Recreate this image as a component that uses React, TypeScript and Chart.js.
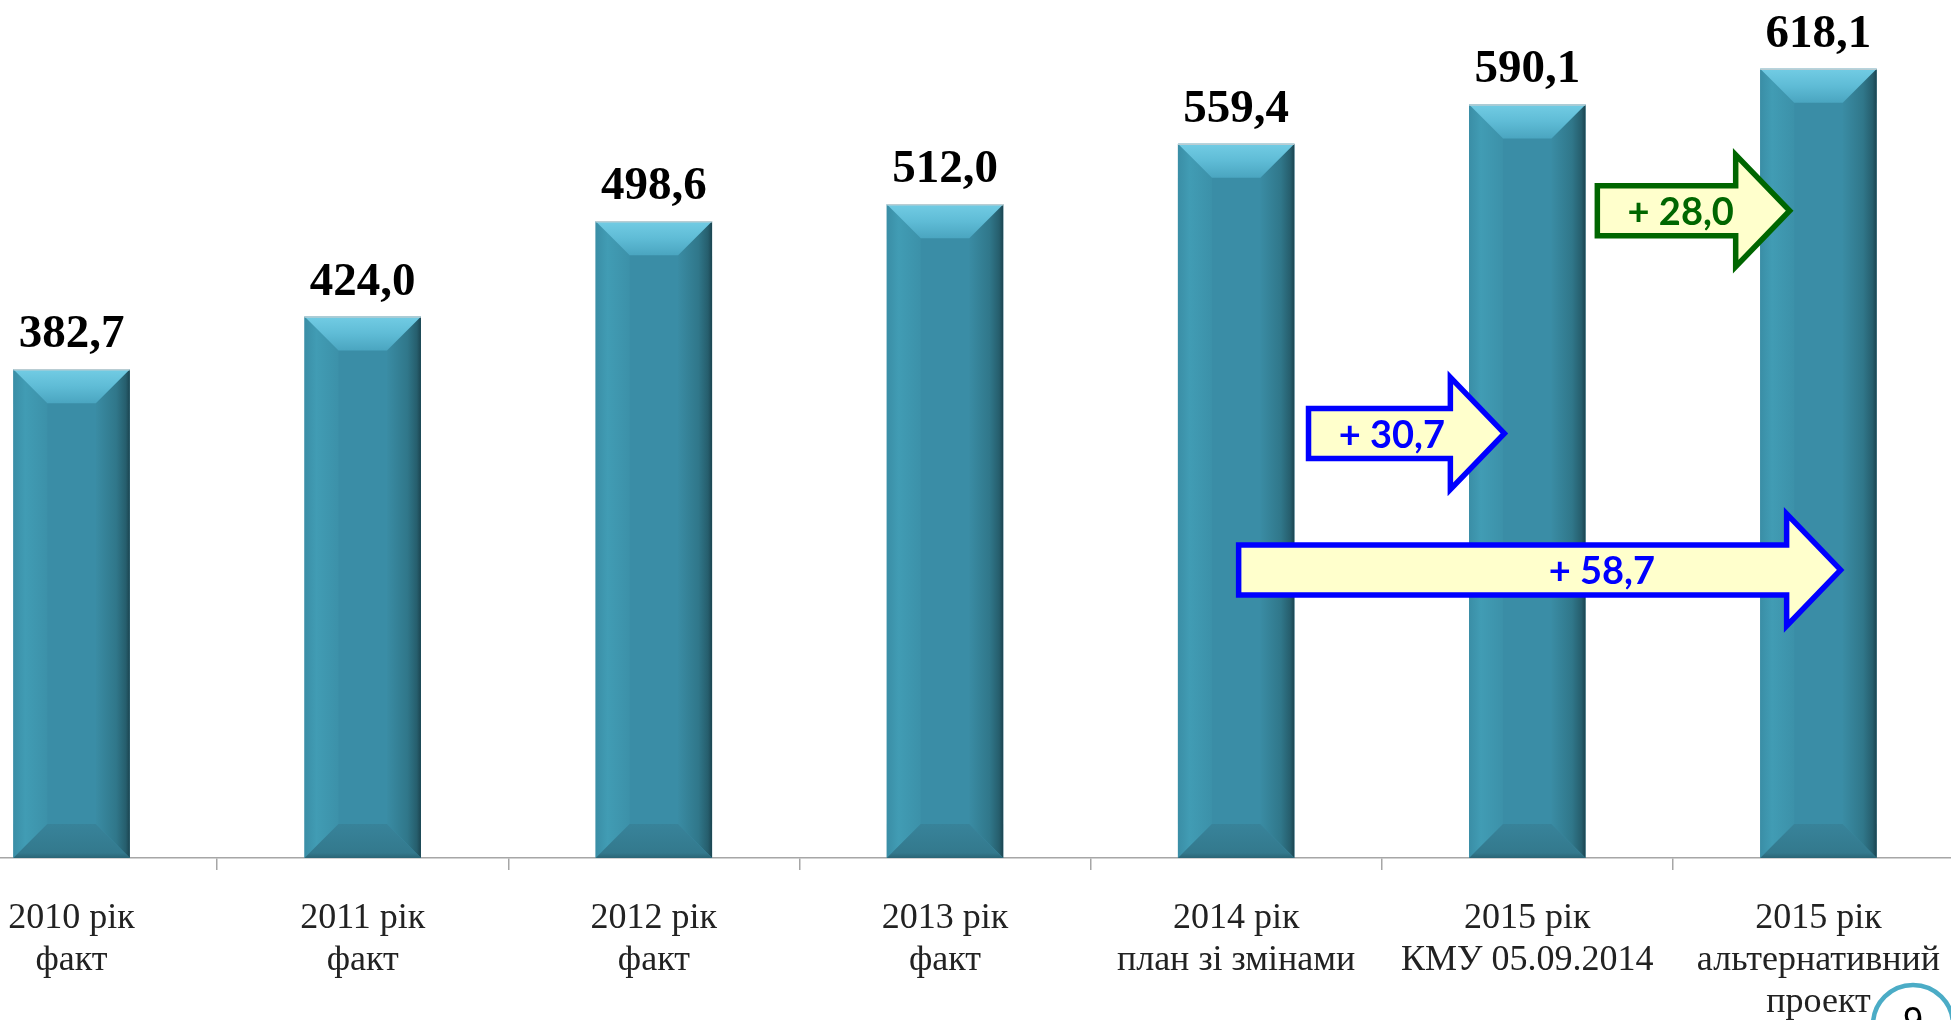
import React, { useEffect, useRef } from "react";
import { Chart, registerables } from "chart.js";

Chart.register(...registerables);

// ---- data ----
const categories: string[][] = [
  ["2010 рік", "факт"],
  ["2011 рік", "факт"],
  ["2012 рік", "факт"],
  ["2013 рік", "факт"],
  ["2014 рік", "план зі змінами"],
  ["2015 рік", "КМУ 05.09.2014"],
  ["2015 рік", "альтернативний", "проект"],
];
const values: number[] = [382.7, 424.0, 498.6, 512.0, 559.4, 590.1, 618.1];

// change arrows (positions in category index / value units)
const arrowLabels: string[] = ["+ 30,7", "+ 58,7", "+ 28,0"];
const arrowStart: number[] = [4.24, 4.0, 5.232];
const arrowTip: number[] = [4.935, 6.09, 5.915];
const arrowLevel: number[] = [332.5, 225.6, 506.9];
const arrowTextAt: number[] = [4.535, 5.256, 5.527];
const arrowColors: string[] = ["#0000FF", "#0000FF", "#006600"];

const pageNumber = "9";

const fmt = (v: number) => v.toFixed(1).replace(".", ",");

const bevelPlugin = {
  id: "bevelAndLabels",
  afterDatasetsDraw(chart: any) {
    const ctx: CanvasRenderingContext2D = chart.ctx;
    const meta = chart.getDatasetMeta(0);
    meta.data.forEach((bar: any, i: number) => {
      const p = bar.getProps(["x", "y", "base", "width"], true);
      const l = p.x - p.width / 2;
      const r = p.x + p.width / 2;
      const t = p.y;
      const b = p.base;
      const bv = 34;
      ctx.save();
      // left strip
      let g = ctx.createLinearGradient(l, 0, l + bv, 0);
      g.addColorStop(0, "#3A8EA6");
      g.addColorStop(0.35, "#419CB4");
      g.addColorStop(1, "#3C91A9");
      ctx.fillStyle = g;
      ctx.beginPath();
      ctx.moveTo(l, t);
      ctx.lineTo(l + bv, t + bv);
      ctx.lineTo(l + bv, b - bv);
      ctx.lineTo(l, b);
      ctx.closePath();
      ctx.fill();
      // right strip
      g = ctx.createLinearGradient(r - bv, 0, r, 0);
      g.addColorStop(0, "#3A8CA4");
      g.addColorStop(0.6, "#30778A");
      g.addColorStop(0.88, "#265E6D");
      g.addColorStop(1, "#1B4450");
      ctx.fillStyle = g;
      ctx.beginPath();
      ctx.moveTo(r, t);
      ctx.lineTo(r - bv, t + bv);
      ctx.lineTo(r - bv, b - bv);
      ctx.lineTo(r, b);
      ctx.closePath();
      ctx.fill();
      // top bevel
      g = ctx.createLinearGradient(0, t, 0, t + bv);
      g.addColorStop(0, "#72CCE4");
      g.addColorStop(0.5, "#5FBCD6");
      g.addColorStop(1, "#4AA5C0");
      ctx.fillStyle = g;
      ctx.beginPath();
      ctx.moveTo(l, t);
      ctx.lineTo(r, t);
      ctx.lineTo(r - bv, t + bv);
      ctx.lineTo(l + bv, t + bv);
      ctx.closePath();
      ctx.fill();
      // bottom bevel
      g = ctx.createLinearGradient(0, b - bv, 0, b);
      g.addColorStop(0, "#38839A");
      g.addColorStop(0.85, "#33798D");
      g.addColorStop(1, "#2A6576");
      ctx.fillStyle = g;
      ctx.beginPath();
      ctx.moveTo(l, b);
      ctx.lineTo(r, b);
      ctx.lineTo(r - bv, b - bv);
      ctx.lineTo(l + bv, b - bv);
      ctx.closePath();
      ctx.fill();
      // top edge line
      ctx.strokeStyle = "#B9CDD3";
      ctx.lineWidth = 1.5;
      ctx.beginPath();
      ctx.moveTo(l, t + 0.5);
      ctx.lineTo(r, t + 0.5);
      ctx.stroke();
      // value label
      ctx.fillStyle = "#000000";
      ctx.font = "bold 47px 'Liberation Serif', 'Times New Roman', serif";
      ctx.textAlign = "center";
      ctx.textBaseline = "alphabetic";
      ctx.fillText(fmt(values[i]), p.x, t - 22);
      ctx.restore();
    });
  },
  afterDraw(chart: any) {
    const ctx: CanvasRenderingContext2D = chart.ctx;
    const xs = chart.scales.x;
    const ys = chart.scales.y;
    const bodyHalf = 25;
    const headHalf = 56;
    const headLen = 54;
    arrowLabels.forEach((label, k) => {
      const x0 = xs.getPixelForValue(arrowStart[k]) + 2.5;
      const x1 = xs.getPixelForValue(arrowTip[k]) - 4;
      const yc = ys.getPixelForValue(arrowLevel[k]);
      const hx = x1 - headLen;
      ctx.save();
      ctx.beginPath();
      ctx.moveTo(x0, yc - bodyHalf);
      ctx.lineTo(hx, yc - bodyHalf);
      ctx.lineTo(hx, yc - headHalf);
      ctx.lineTo(x1, yc);
      ctx.lineTo(hx, yc + headHalf);
      ctx.lineTo(hx, yc + bodyHalf);
      ctx.lineTo(x0, yc + bodyHalf);
      ctx.closePath();
      ctx.fillStyle = "#FFFFCC";
      ctx.fill();
      ctx.lineWidth = 5.5;
      ctx.lineJoin = "miter";
      ctx.strokeStyle = arrowColors[k];
      ctx.stroke();
      ctx.fillStyle = arrowColors[k];
      ctx.font = "bold 38px Lato, 'Open Sans', sans-serif";
      ctx.textAlign = "center";
      ctx.textBaseline = "middle";
      ctx.fillText(label, xs.getPixelForValue(arrowTextAt[k]), yc + 2);
      ctx.restore();
    });
    // page number badge
    ctx.save();
    const cx = chart.width - 51;
    const cy = 1025;
    ctx.beginPath();
    ctx.arc(cx, cy, 40, 0, Math.PI * 2);
    ctx.fillStyle = "#FFFFFF";
    ctx.fill();
    ctx.lineWidth = 4.5;
    ctx.strokeStyle = "#4BACC6";
    ctx.stroke();
    ctx.fillStyle = "#000000";
    ctx.font = "36px 'Liberation Sans', Arial, sans-serif";
    ctx.textAlign = "center";
    ctx.textBaseline = "middle";
    ctx.fillText(pageNumber, cx, cy - 2);
    ctx.restore();
  },
};

export default function App() {
  const ref = useRef<HTMLCanvasElement | null>(null);

  useEffect(() => {
    if (!ref.current) return;
    const chart = new Chart(ref.current, {
      type: "bar",
      data: {
        labels: categories,
        datasets: [
          {
            data: values,
            backgroundColor: "#3A8DA6",
            borderWidth: 0,
            barPercentage: 0.4,
            categoryPercentage: 1,
          },
        ],
      },
      options: {
        responsive: false,
        animation: false,
        devicePixelRatio: 1,
        layout: { padding: { top: 28, left: 0, right: 0, bottom: 0 } },
        plugins: {
          legend: { display: false },
          tooltip: { enabled: false },
          title: { display: false },
        },
        scales: {
          x: {
            offset: true,
            grid: {
              offset: true,
              drawOnChartArea: false,
              drawTicks: true,
              tickLength: 12,
              color: "#A6A6A6",
              lineWidth: 1.5,
            },
            border: { display: true, color: "#A6A6A6", width: 1.5 },
            ticks: {
              autoSkip: false,
              maxRotation: 0,
              minRotation: 0,
              padding: 27,
              color: "#222222",
              font: {
                family: "'Liberation Serif', 'Times New Roman', serif",
                size: 36,
                lineHeight: 1.17,
              },
            },
            afterFit: (scale: any) => {
              scale.height = 162;
              scale.paddingLeft = 0;
              scale.paddingRight = 0;
            },
          },
          y: {
            display: false,
            min: 0,
            max: 650,
          },
        },
      },
      plugins: [bevelPlugin],
    } as any);
    return () => chart.destroy();
  }, []);

  return (
    <div
      style={{
        position: "fixed",
        left: 0,
        top: 0,
        width: 1951,
        height: 1020,
        overflow: "hidden",
        background: "#FFFFFF",
      }}
    >
      <canvas
        ref={ref}
        width={2038}
        height={1020}
        style={{ position: "absolute", left: -74, top: 0, width: 2038, height: 1020 }}
      />
    </div>
  );
}
